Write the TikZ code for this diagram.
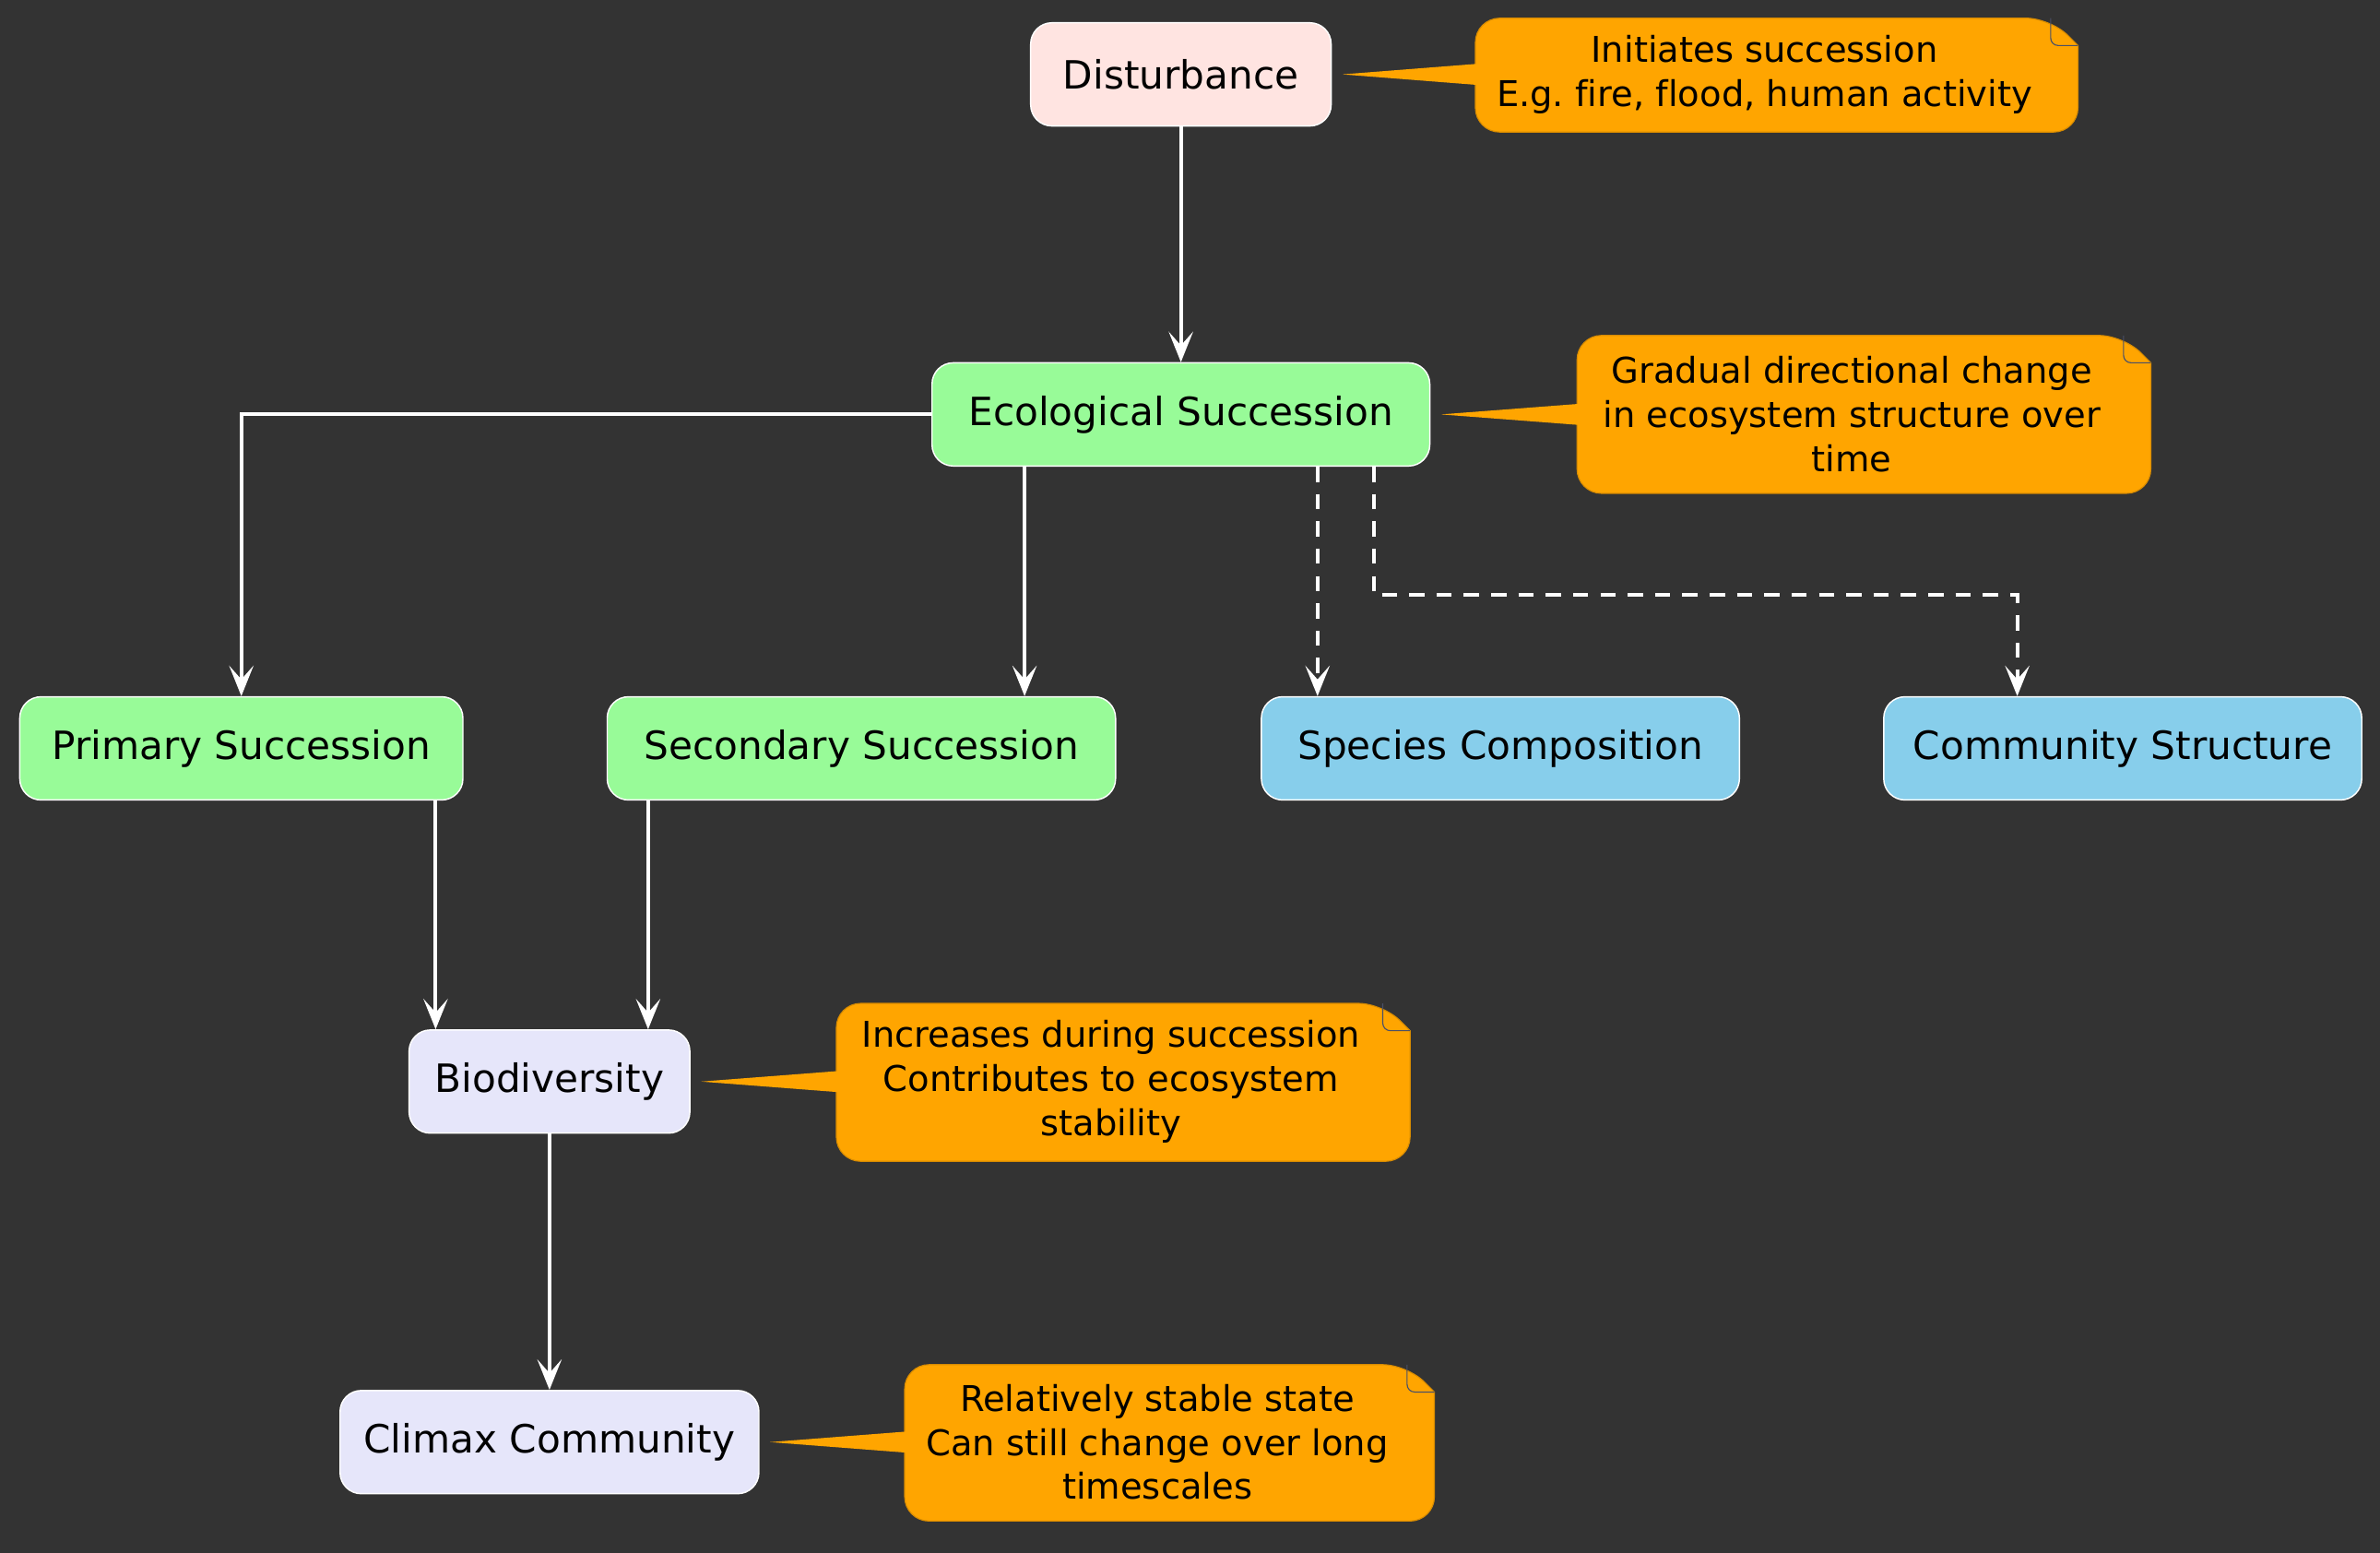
\documentclass[tikz,border=0pt]{standalone}
\usepackage{fontspec}
\setmainfont[Ligatures=NoCommon]{DejaVu Sans}
\usepackage{xcolor}
\usetikzlibrary{arrows.meta,calc}
\definecolor{vbgdark}{HTML}{333333}
\definecolor{vrose}{HTML}{FFE4E1}
\definecolor{vgreen}{HTML}{98FB98}
\definecolor{vsky}{HTML}{87CEEB}
\definecolor{vlavender}{HTML}{E6E6FA}
\definecolor{vorange}{HTML}{FFA500}
\definecolor{vfold}{HTML}{4A5068}
\frenchspacing

\tikzset{
	box/.style={draw=white, line width=0.5pt, rounded corners=0.28cm, minimum height=1.36cm, inner sep=0pt, font=\fontsize{14.6}{18}\selectfont},
	edge/.style={draw=white, line width=1.4pt, -{Stealth[length=0.4cm,width=0.32cm,inset=0.18cm]}},
	dashedge/.style={edge, dash pattern=on 0.2cm off 0.16cm},
	notebody/.style={fill=vorange, draw=vorange!85!black, line width=0.4pt},
	notetext/.style={align=center, inner sep=0pt, font=\fontsize{13.3}{16.5}\selectfont},
}

% note: #1 node, #2 left, #3 top, #4 right, #5 bottom, #6 text
\newcommand{\callout}[6]{
	\filldraw[notebody] (#4-18,#3) -- (#4,#3+18) [rounded corners=0.32cm] -- (#4,#5) -- (#2,#5) -- (#2,#3) -- cycle;
	\draw[vfold, line width=0.4pt, rounded corners=0.1cm] (#4-18,#3) -- (#4-18,#3+18) -- (#4,#3+18);
	\coordinate (base) at (#1.east -| #2,0);
	\fill[vorange] ([xshift=0.14cm]#1.east) -- ([xshift=0.04cm,yshift=0.14cm]base) -- ([xshift=0.04cm,yshift=-0.14cm]base) -- cycle;
	\path (base) ++({(#4-#2)/2-8},0) node[notetext] {#6};
}

\begin{document}
\begin{tikzpicture}[x=0.02cm, y=-0.02cm]
		\fill[vbgdark] (0,0) rectangle (1568,1023);

		\node[box, fill=vrose, minimum width=3.96cm] (dist) at (778,49) {Disturbance};
		\node[box, fill=vgreen, minimum width=6.56cm] (eco) at (778,273) {Ecological Succession};
		\node[box, fill=vgreen, minimum width=5.84cm] (prim) at (159,493) {Primary Succession};
		\node[box, fill=vgreen, minimum width=6.70cm] (sec) at (567.5,493) {Secondary Succession};
		\node[box, fill=vsky, minimum width=6.30cm] (spec) at (988.5,493) {Species Composition};
		\node[box, fill=vsky, minimum width=6.30cm] (comm) at (1398.5,493) {Community Structure};
		\node[box, fill=vlavender, minimum width=3.70cm] (bio) at (362,712.5) {Biodiversity};
		\node[box, fill=vlavender, minimum width=5.52cm] (clim) at (362,950) {Climax Community};

		\draw[edge] (dist) -- (eco);
		\draw[edge] (eco.west) -| (prim);
		\draw[edge] (eco.south -| 675,0) -- (sec.north -| 675,0);
		\draw[dashedge] (eco.south -| 868,0) -- (spec.north -| 868,0);
		\draw[dashedge] (eco.south -| 905,0) |- (1329,392) -- (comm.north -| 1329,0);
		\draw[edge] (prim.south -| 287,0) -- (bio.north -| 287,0);
		\draw[edge] (sec.south -| 427,0) -- (bio.north -| 427,0);
		\draw[edge] (bio) -- (clim);

		\callout{dist}{972}{12}{1369}{87}{Initiates succession\\E.g. fire, flood, human activity}
		\callout{eco}{1039}{221}{1417}{325}{Gradual directional change\\in ecosystem structure over\\time}
		\callout{bio}{551}{661}{929}{765}{Increases during succession\\Contributes to ecosystem\\stability}
		\callout{clim}{596}{899}{945}{1002}{Relatively stable state\\Can still change over long\\timescales}
	\end{tikzpicture}
\end{document}
